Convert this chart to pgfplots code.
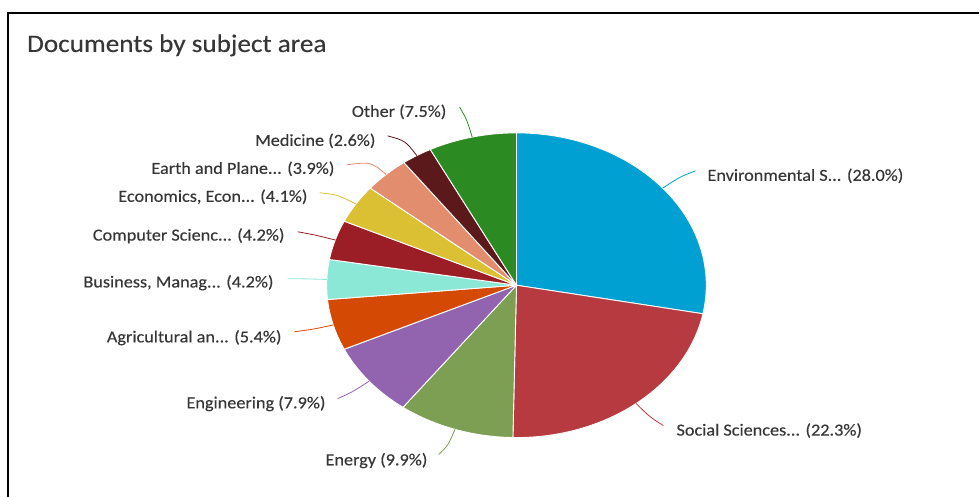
\documentclass[border=0pt]{standalone}
\usepackage{pgfplots}
\pgfplotsset{compat=1.18}
\usepackage{fontspec}
\setmainfont{Carlito}[FakeStretch=1.08, FakeBold=0.3]
\definecolor{envc}{RGB}{0,160,210}
\definecolor{socc}{RGB}{183,58,64}
\definecolor{enec}{RGB}{124,159,83}
\definecolor{engc}{RGB}{146,100,176}
\definecolor{agrc}{RGB}{212,74,5}
\definecolor{busc}{RGB}{140,232,214}
\definecolor{comc}{RGB}{155,30,38}
\definecolor{ecoc}{RGB}{218,192,50}
\definecolor{earc}{RGB}{226,141,110}
\definecolor{medc}{RGB}{92,25,28}
\definecolor{othc}{RGB}{44,138,34}
\definecolor{txtc}{RGB}{55,55,55}
% slice: colour, cumulative start %, cumulative end %
\newcommand\slice[3]{%
  \filldraw[fill=#1, draw=white, line width=0.9pt, line join=round]
    (axis cs:517,285.5) --
    (axis cs:{517+190*cos(90-3.6*#2)},{285.5-152.5*sin(90-3.6*#2)})
    arc[start angle={90-3.6*#2}, end angle={90-3.6*#3}, x radius=190pt, y radius=152.5pt]
    -- cycle;}
% leader: colour, mid %, end x, end y
\newcommand\leader[4]{%
  \draw[#1, line width=0.8pt]
    (axis cs:{517+190*cos(90-3.6*#2)},{285.5-152.5*sin(90-3.6*#2)})
    .. controls (axis cs:{517+212*cos(90-3.6*#2)},{285.5-170*sin(90-3.6*#2)}) ..
    (axis cs:#3,#4);}
\begin{document}
\begin{tikzpicture}
\begin{axis}[
  x=1pt, y=1pt, xmin=0, xmax=980, ymin=0, ymax=497, y dir=reverse,
  hide axis, clip=false, axis line style={draw=none},
]
\path (axis cs:0,0) rectangle (axis cs:980,497);
\draw[line width=2pt, black] (axis cs:8,497) -- (axis cs:8,13) -- (axis cs:980,13);
\node[anchor=base west, text=txtc, inner sep=0pt, font=\fontsize{25.2}{28}\selectfont] at (axis cs:27,52) {Documents by subject area};
% slices (percent values: 28.0, 22.3, 9.9, 7.9, 5.4, 4.2, 4.2, 4.1, 3.9, 2.6, 7.5)
\slice{envc}{0}{28.0}
\slice{socc}{28.0}{50.3}
\slice{enec}{50.3}{60.2}
\slice{engc}{60.2}{68.1}
\slice{agrc}{68.1}{73.5}
\slice{busc}{73.5}{77.7}
\slice{comc}{77.7}{81.9}
\slice{ecoc}{81.9}{86.0}
\slice{earc}{86.0}{89.9}
\slice{medc}{89.9}{92.5}
\slice{othc}{92.5}{100}
% leaders
\leader{envc}{14.0}{696}{171}
\leader{socc}{39.15}{664}{426}
\leader{enec}{55.25}{439}{455}
\leader{engc}{64.15}{338}{399}
\leader{agrc}{70.8}{295}{332}
\leader{busc}{75.6}{288}{279}
\leader{comc}{79.8}{298}{232}
\leader{ecoc}{83.95}{320}{193}
\leader{earc}{87.95}{347}{165}
\leader{medc}{91.2}{388}{136}
\leader{othc}{96.25}{460}{107}
% labels
\begin{scope}[every node/.style={text=txtc, font=\fontsize{16.9}{19}\selectfont, inner sep=0pt}]
\node[anchor=west] at (axis cs:708,176) {Environmental S... (28.0\%)};
\node[anchor=west] at (axis cs:677,431) {Social Sciences... (22.3\%)};
\node[anchor=east] at (axis cs:428,461) {Energy (9.9\%)};
\node[anchor=east] at (axis cs:326,404) {Engineering (7.9\%)};
\node[anchor=east] at (axis cs:282,338) {Agricultural an... (5.4\%)};
\node[anchor=east] at (axis cs:274,283) {Business, Manag... (4.2\%)};
\node[anchor=east] at (axis cs:285,236) {Computer Scienc... (4.2\%)};
\node[anchor=east] at (axis cs:308,197) {Economics, Econ... (4.1\%)};
\node[anchor=east] at (axis cs:335,169) {Earth and Plane... (3.9\%)};
\node[anchor=east] at (axis cs:376,141) {Medicine (2.6\%)};
\node[anchor=east] at (axis cs:447,112) {Other (7.5\%)};
\end{scope}
\end{axis}
\end{tikzpicture}
\end{document}
